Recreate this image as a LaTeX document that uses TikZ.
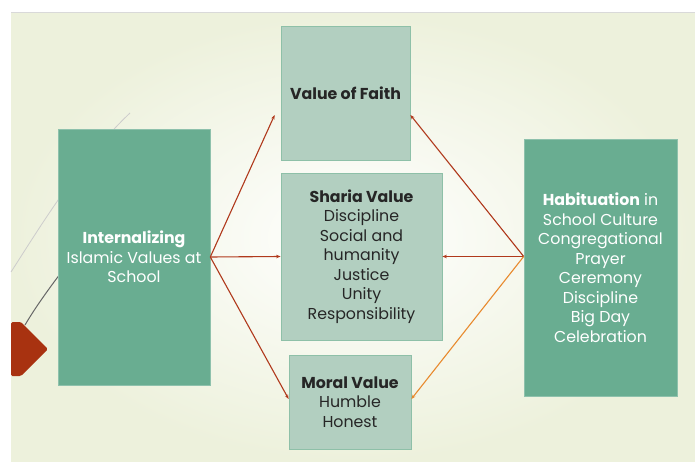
\documentclass[tikz,border=0pt]{standalone}
\usepackage{fontspec}
\setmainfont{Poppins}
\usetikzlibrary{arrows.meta,calc,positioning}
\definecolor{darkbox}{HTML}{69AD91}
\definecolor{lightbox}{HTML}{B2CFC0}
\definecolor{lightedge}{HTML}{8EC0A8}
\definecolor{arrowred}{HTML}{B0391C}
\definecolor{arroworange}{HTML}{E88A2E}
\definecolor{flowred}{HTML}{A83210}
\definecolor{slideedge}{HTML}{EDF1DC}
\tikzset{
    outerbox/.style={fill=darkbox, draw=darkbox!75!white, line width=0.6pt,
        text=white, align=center, inner sep=0pt},
    valuebox/.style={fill=lightbox, draw=lightedge, line width=0.8pt,
        text=black!85, align=center, inner sep=0pt},
    link/.style={-{Stealth[length=4.5pt,width=3.5pt]}, line width=1.1pt, arrowred}
}

\begin{document}
\begin{tikzpicture}[x=1pt, y=-1pt, font=\fontsize{15.8}{19.5}\selectfont]
                        \useasboundingbox (0,0) rectangle (695,462);
                        \fill[white] (0,0) rectangle (695,462);
                        \shade[inner color=white, outer color=slideedge] (11,13) rectangle (695,462);
                        \draw[black!15, line width=1.2pt] (11,12.5) -- (695,12.5);
                        \draw[black!20, line width=0.8pt] (11,272) .. controls (35,235) and (80,160) .. (130,113);
                        \draw[black!60, line width=1pt] (25,325) .. controls (35,308) and (48,290) .. (60,274);
                        \fill[flowred, rounded corners=1.5pt] (11,322) -- (21,322) -- (48,349) -- (21,376) -- (11,376) -- cycle;

                        \node[outerbox, minimum width=152, minimum height=256] (iv) at (134,257)
                            {\textbf{Internalizing}\\Islamic Values at\\School};
                        \node[valuebox, minimum width=129, minimum height=134] (vf) at (345.5,93)
                            {\textbf{Value of Faith}};
                        \node[valuebox, minimum width=161, minimum height=167] (sv) at (361.5,256.5)
                            {\textbf{Sharia Value}\\Discipline\\Social and\\humanity\\Justice\\Unity\\Responsibility};
                        \node[valuebox, minimum width=122, minimum height=94] (mv) at (350,402)
                            {\textbf{Moral Value}\\Humble\\Honest};
                        \node[outerbox, minimum width=153, minimum height=257] (hb) at (600.5,267.5)
                            {\textbf{Habituation} in\\School Culture\\Congregational\\Prayer\\Ceremony\\Discipline\\Big Day\\Celebration};

                        \draw[link] (iv.east) -- ([xshift=-6pt, yshift=-22pt]vf.west);
                        \draw[link] (iv.east) -- (sv.west);
                        \draw[link] (iv.east) -- ([yshift=3pt]mv.west);
                        \draw[link] (hb.west |- sv.east) -- ([yshift=-22pt]vf.east);
                        \draw[link] (hb.west |- sv.east) -- (sv.east);
                        \draw[link, arroworange] (hb.west |- sv.east) -- ([yshift=3pt]mv.east);
                    \end{tikzpicture}
\end{document}
